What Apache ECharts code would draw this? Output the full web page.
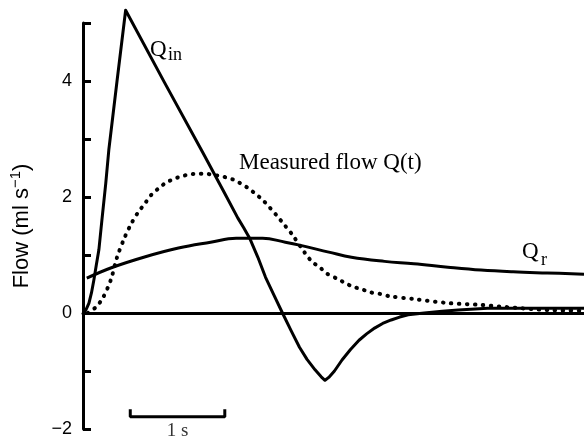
<!DOCTYPE html>
<html>
<head>
<meta charset="utf-8">
<script src="https://cdn.jsdelivr.net/npm/echarts@6/dist/echarts.min.js"></script>
<style>
  html, body { margin: 0; padding: 0; background: #fff; }
  #chart { width: 584px; height: 444px; }
</style>
</head>
<body>
<div id="chart"></div>
<script>
// Time in seconds, flow in ml s^-1
const inflow = [
  [0, 0], [0.03, 0.05], [0.063, 0.17], [0.09, 0.35], [0.115, 0.57], [0.14, 0.82],
  [0.168, 1.09], [0.2, 1.6], [0.241, 2.24], [0.273, 2.81], [0.36, 4.0], [0.451, 5.22],
  [0.86, 3.98], [1.27, 2.76], [1.50, 2.06], [1.637, 1.64], [1.70, 1.47], [1.763, 1.29],
  [1.85, 0.96], [1.93, 0.62], [2.02, 0.31], [2.11, 0], [2.20, -0.30], [2.29, -0.59],
  [2.37, -0.80], [2.455, -0.98], [2.52, -1.10], [2.56, -1.16], [2.60, -1.11], [2.66, -1.0],
  [2.74, -0.81], [2.83, -0.63], [2.92, -0.47], [3.0, -0.36], [3.085, -0.26], [3.17, -0.18],
  [3.26, -0.12], [3.35, -0.07], [3.44, -0.03], [3.61, 0], [3.8, 0.03], [3.97, 0.05],
  [4.28, 0.08], [4.7, 0.08], [5.3, 0.08]
];

const measured = [
  [0.05, 0.0], [0.136, 0.10], [0.21, 0.26], [0.294, 0.57], [0.36, 0.96], [0.44, 1.30],
  [0.514, 1.55], [0.577, 1.72], [0.66, 1.90], [0.724, 2.04], [0.808, 2.16], [0.881, 2.25],
  [0.976, 2.32], [1.05, 2.36], [1.134, 2.39], [1.22, 2.40], [1.30, 2.40], [1.38, 2.38],
  [1.46, 2.36], [1.53, 2.33], [1.606, 2.29], [1.66, 2.24], [1.75, 2.15], [1.82, 2.06],
  [1.90, 1.95], [1.98, 1.81], [2.06, 1.66], [2.13, 1.52], [2.21, 1.36], [2.35, 1.03],
  [2.42, 0.89], [2.51, 0.78], [2.58, 0.68], [2.69, 0.59], [2.77, 0.52], [2.86, 0.45],
  [2.95, 0.41], [3.03, 0.36], [3.14, 0.33], [3.24, 0.29], [3.5, 0.24], [3.87, 0.17],
  [4.2, 0.14], [4.57, 0.09], [4.93, 0.05], [5.3, 0.04]
];

const reservoir = [
  [0.04, 0.60], [0.30, 0.78], [0.66, 0.97], [1.01, 1.12], [1.35, 1.22], [1.62, 1.29],
  [1.90, 1.29], [2.14, 1.22], [2.29, 1.17], [2.60, 1.05], [2.84, 0.96], [3.19, 0.89],
  [3.50, 0.85], [3.86, 0.79], [4.21, 0.74], [4.55, 0.71], [4.91, 0.69], [5.3, 0.67]
];

// One-second scale bar drawn in data units
const scaleBar = [[0.5, -1.66], [0.5, -1.79], [1.5, -1.79], [1.5, -1.66]];
const scaleBarLabel = [[1.0, -1.79]];

const yTicks = { min: -2, max: 5, step: 1 };
const xRange = { min: 0, max: 5.3 };

const serif = '"Liberation Serif", "DejaVu Serif", serif';
const sans = '"Liberation Sans", Arial, sans-serif';

function serifText(text, left, top, size) {
  return {
    type: 'text',
    left: left,
    top: top,
    style: { text: text, fontFamily: serif, fontSize: size, fill: '#000' }
  };
}

const chart = echarts.init(document.getElementById('chart'), null, { renderer: 'canvas' });

chart.setOption({
  animation: false,
  backgroundColor: '#fff',
  grid: { left: 78, right: 0, top: 23, bottom: 15, containLabel: false },
  xAxis: {
    type: 'value',
    min: xRange.min,
    max: xRange.max,
    axisLine: { show: true, onZero: true, lineStyle: { color: '#000', width: 3 } },
    axisTick: { show: false },
    axisLabel: { show: false },
    splitLine: { show: false }
  },
  yAxis: {
    type: 'value',
    min: yTicks.min,
    max: yTicks.max,
    interval: yTicks.step,
    name: '{a|Flow (ml s}{sup|−1}{a|)}',
    nameLocation: 'middle',
    nameGap: 50,
    nameRotate: 90,
    nameTextStyle: {
      rich: {
        a: { fontFamily: sans, fontSize: 22, color: '#000', lineHeight: 25, verticalAlign: 'bottom' },
        sup: { fontFamily: sans, fontSize: 15, color: '#000', lineHeight: 12, verticalAlign: 'top' }
      }
    },
    axisLine: { show: true, onZero: false, lineStyle: { color: '#000', width: 3 } },
    axisTick: { show: true, inside: true, length: 8, lineStyle: { color: '#000', width: 3 } },
    axisLabel: {
      margin: 11,
      fontFamily: sans,
      fontSize: 18,
      color: '#000',
      formatter: function (v) {
        if (v % 2 !== 0) return '';
        return v < 0 ? '−' + (-v) : String(v);
      }
    },
    splitLine: { show: false }
  },
  series: [
    {
      name: 'Q_in',
      type: 'line',
      data: inflow,
      symbol: 'none',
      smooth: false,
      clip: false,
      lineStyle: { color: '#000', width: 3, join: 'round' },
      z: 3
    },
    {
      name: 'Measured flow Q(t)',
      type: 'line',
      data: measured,
      symbol: 'none',
      smooth: 0.3,
      lineStyle: { color: '#000', width: 4, type: [0.5, 7.5], cap: 'round' },
      z: 2
    },
    {
      name: 'Q_r',
      type: 'line',
      data: reservoir,
      symbol: 'none',
      smooth: 0.4,
      lineStyle: { color: '#000', width: 3 },
      z: 3
    },
    {
      name: 'scale',
      type: 'line',
      data: scaleBar,
      symbol: 'none',
      lineStyle: { color: '#000', width: 3 },
      z: 3
    },
    {
      name: 'scaleLabel',
      type: 'scatter',
      data: scaleBarLabel,
      symbolSize: 0,
      label: {
        show: true,
        position: 'bottom',
        distance: 5,
        formatter: '1 s',
        fontFamily: serif,
        fontSize: 19,
        color: '#000'
      }
    }
  ],
  graphic: [
    serifText('Q', 150, 38, 23),
    serifText('in', 168, 46, 18),
    serifText('Measured flow Q(t)', 239, 151, 23),
    serifText('Q', 522, 240, 23),
    serifText('r', 541, 251, 18)
  ]
});
</script>
</body>
</html>
